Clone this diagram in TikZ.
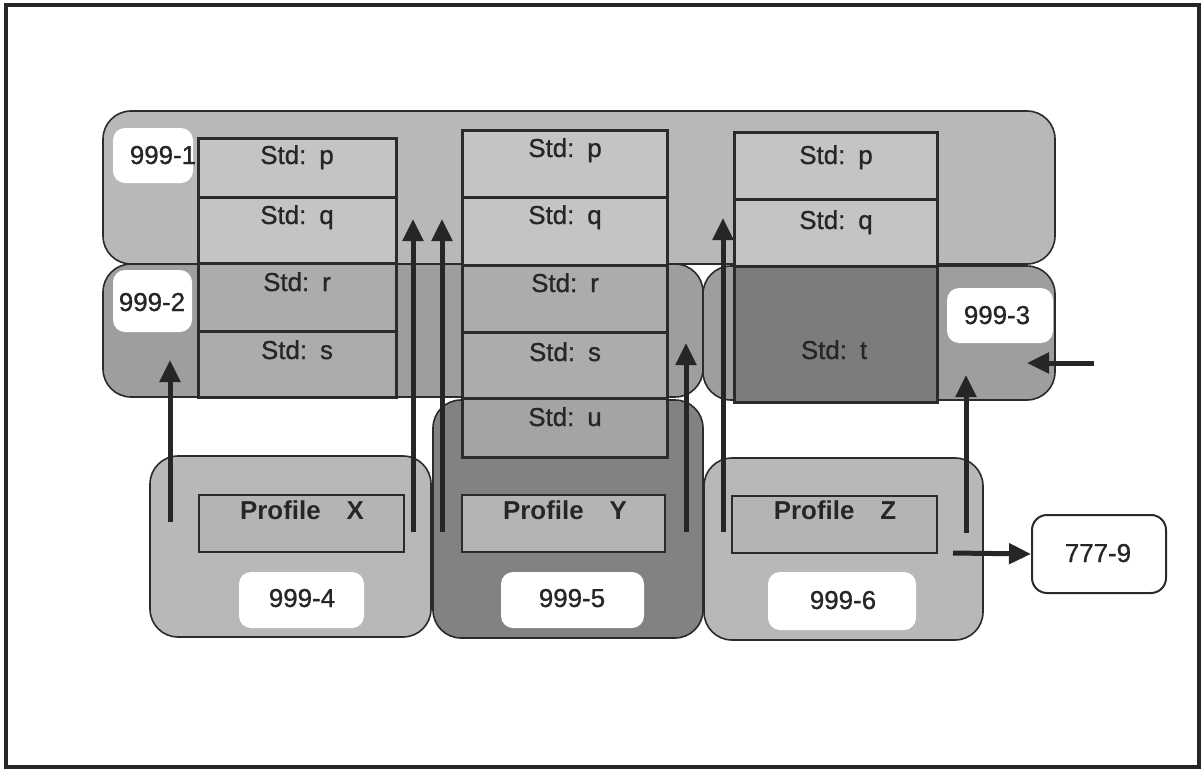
\documentclass[tikz,border=0pt]{standalone}
\usepackage{fontspec}
\setmainfont{Liberation Sans}
\newfontfamily\labfont[FakeBold=0.9]{Liberation Sans}
\usetikzlibrary{arrows.meta}
\definecolor{edge}{HTML}{2B2B2B}
\definecolor{ink}{HTML}{262626}
\definecolor{gA}{RGB}{184,184,184}
\definecolor{gCellL}{RGB}{196,196,196}
\definecolor{gB}{RGB}{158,158,158}
\definecolor{gCellM}{RGB}{172,172,172}
\definecolor{gU}{RGB}{164,164,164}
\definecolor{gC}{RGB}{130,130,130}
\definecolor{gT}{RGB}{124,124,124}
\definecolor{gP}{RGB}{180,180,180}
\newcommand\mybox[6]{%
  \node[#2, minimum width={(#5-#3)*1bp}, minimum height={(#6-#4)*1bp}]
    (#1) at ({(#3+#5)/2},{(#4+#6)/2}) {};}
\tikzset{
  grp/.style={draw=edge, line width=1.6bp, rounded corners=28bp, inner sep=0pt, outer sep=0pt},
  cell/.style={draw=edge, line width=3bp, inner sep=0pt, outer sep=0pt},
  pbox/.style={draw=edge, line width=2bp, inner sep=0pt, outer sep=0pt, fill=gP},
  lbl/.style={fill=white, rounded corners=12bp, inner sep=0pt, outer sep=0pt},
  txt/.style={font=\labfont\fontsize{26}{26}\selectfont, text=ink, inner sep=0pt, anchor=base},
  ptxt/.style={txt, font=\fontsize{26}{26}\selectfont\bfseries},
  arr/.style={draw=ink, line width=5bp, -{Triangle[width=20bp,length=22bp]}},
}
\begin{document}
\begin{tikzpicture}[x=1bp,y=-1bp]
\useasboundingbox (0,0) rectangle (1203,773);
\fill[white] (0,0) rectangle (1203,773);
\draw[draw=ink, line width=3.2bp] (6,5) rectangle (1199,767);

% groups
\mybox{g1}{grp,fill=gA}{103}{111}{1055}{264}
\mybox{g5}{grp,fill=gC}{433}{400}{703}{638}
\mybox{g2}{grp,fill=gB}{103}{264}{703}{397}
\mybox{g3}{grp,fill=gB}{703}{266}{1055}{400}
\mybox{g4}{grp,fill=gA}{150}{456}{431}{637}
\mybox{g6}{grp,fill=gA}{704}{458}{983}{640}

% labels
\mybox{l1}{lbl}{113}{128}{193}{183}
\mybox{l2}{lbl}{113}{270}{192}{332}
\mybox{l3}{lbl}{947}{288}{1053}{343}
\mybox{l4}{lbl}{239}{572}{364}{628}
\mybox{l5}{lbl}{501}{572}{644}{628}
\mybox{l6}{lbl}{768}{572}{916}{630}
\node[draw=edge, line width=2bp, fill=white, rounded corners=15bp, inner sep=0pt,
  minimum width=134bp, minimum height=78bp] (l9) at (1099,554) {};

% columns
\mybox{c1p}{cell,fill=gCellL}{198}{138}{396}{197}
\mybox{c1q}{cell,fill=gCellL}{198}{197}{396}{263}
\mybox{c1r}{cell,fill=gCellM}{198}{263}{396}{331}
\mybox{c1s}{cell,fill=gCellM}{198}{331}{396}{397}
\mybox{c2p}{cell,fill=gCellL}{462}{130}{667}{197}
\mybox{c2q}{cell,fill=gCellL}{462}{197}{667}{265}
\mybox{c2r}{cell,fill=gCellM}{462}{265}{667}{332}
\mybox{c2s}{cell,fill=gCellM}{462}{332}{667}{398}
\mybox{c2u}{cell,fill=gU}{462}{398}{667}{457}
\mybox{c3p}{cell,fill=gCellL}{734}{132}{937}{199}
\mybox{c3q}{cell,fill=gCellL}{734}{199}{937}{266}
\mybox{c3t}{cell,fill=gT}{734}{266}{937}{402}

% profile boxes
\mybox{px}{pbox}{199}{495}{404}{552}
\mybox{py}{pbox}{462}{495}{665}{552}
\mybox{pz}{pbox}{732}{496}{937}{553}

% texts
\node[txt] (t1) at (163,164) {999-1};
\node[txt] (t2) at (152,311) {999-2};
\node[txt] (t3) at (997,324) {999-3};
\node[txt] (t4) at (302,607) {999-4};
\node[txt] (t5) at (572,607) {999-5};
\node[txt] (t6) at (843,609) {999-6};
\node[txt] (t9) at (1098,562) {777-9};

\node[txt] (s1p) at (297,164) {Std:\enspace p};
\node[txt] (s1q) at (297,224) {Std:\enspace q};
\node[txt] (s1r) at (297,291) {Std:\enspace r};
\node[txt] (s1s) at (297,359) {Std:\enspace s};
\node[txt] (s2p) at (565,157) {Std:\enspace p};
\node[txt] (s2q) at (565,224) {Std:\enspace q};
\node[txt] (s2r) at (565,292) {Std:\enspace r};
\node[txt] (s2s) at (565,361) {Std:\enspace s};
\node[txt] (s2u) at (565,426) {Std:\enspace u};
\node[txt] (s3p) at (836,164) {Std:\enspace p};
\node[txt] (s3q) at (836,229) {Std:\enspace q};
\node[txt] (s3t) at (834,359) {Std:\enspace t};

\node[ptxt] (tpx) at (302,519) {Profile\quad X};
\node[ptxt] (tpy) at (565,519) {Profile\quad Y};
\node[ptxt] (tpz) at (835,519) {Profile\quad Z};

% arrows
\coordinate (a1s) at (170,522); \coordinate (a1e) at (170,360);
\coordinate (a2s) at (413,532); \coordinate (a2e) at (413,219);
\coordinate (a3s) at (442,532); \coordinate (a3e) at (442,219);
\coordinate (a4s) at (686,532); \coordinate (a4e) at (686,343);
\coordinate (a5s) at (723,532); \coordinate (a5e) at (723,218);
\coordinate (a6s) at (966,533); \coordinate (a6e) at (966,375);
\coordinate (a7s) at (1094,363); \coordinate (a7e) at (1027,363);
\coordinate (a8s) at (953,553);
\draw[arr] (a1s) -- (a1e);
\draw[arr] (a2s) -- (a2e);
\draw[arr] (a3s) -- (a3e);
\draw[arr] (a4s) -- (a4e);
\draw[arr] (a5s) -- (a5e);
\draw[arr] (a6s) -- (a6e);
\draw[arr] (a7s) -- (a7e);
\draw[arr] (a8s) -- (l9.west);
\end{tikzpicture}
\end{document}
